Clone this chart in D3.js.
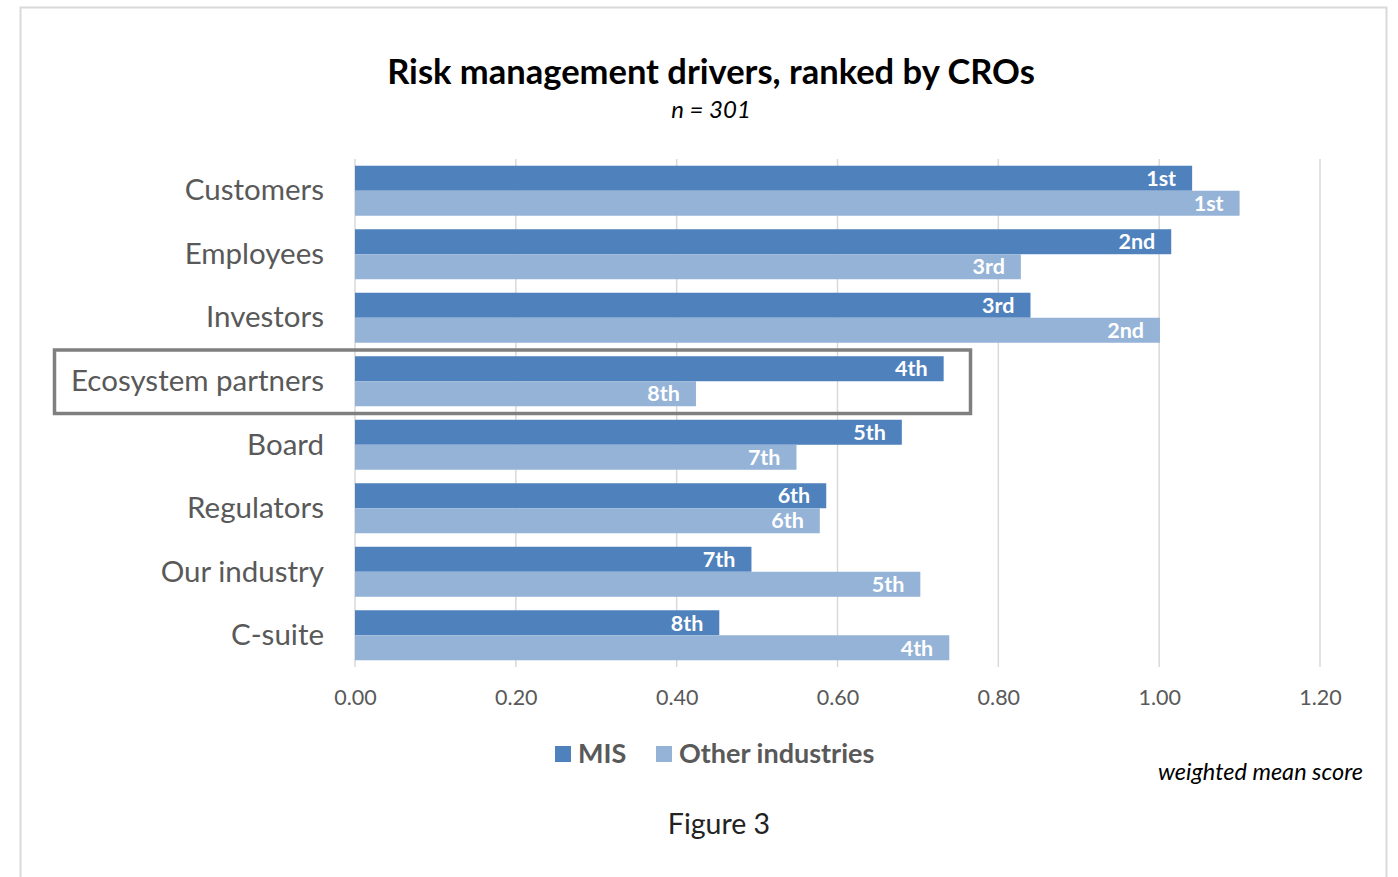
<!DOCTYPE html>
<html><head><meta charset="utf-8">
<script src="https://cdn.jsdelivr.net/npm/d3@7"></script>
<style>body{margin:0;background:#fff;font-family:Lato,"Open Sans",sans-serif;}</style>
</head><body><svg id="c" width="1398" height="877"></svg>
<script>
const categories = ["Customers","Employees","Investors","Ecosystem partners","Board","Regulators","Our industry","C-suite"];
const misValues = [1.041, 1.015, 0.84, 0.732, 0.68, 0.586, 0.493, 0.453];
const otherValues = [1.100, 0.828, 1.001, 0.424, 0.549, 0.578, 0.703, 0.739];
const misRanks = ["1st","2nd","3rd","4th","5th","6th","7th","8th"];
const otherRanks = ["1st","3rd","2nd","8th","7th","6th","5th","4th"];
const seriesNames = ["MIS","Other industries"];
const tickValues = [0,0.2,0.4,0.6,0.8,1.0,1.2];
const colors = ["#4F81BD","#95B3D7"];

const svg = d3.select("#c");
const font = "Lato, 'Open Sans', sans-serif";

// outer frame
svg.append("rect").attr("x",20.5).attr("y",7.5).attr("width",1366).attr("height",880)
  .attr("fill","none").attr("stroke","#d9d9d9").attr("stroke-width",2);

const x = d3.scaleLinear().domain([0,1.2]).range([355,1320]);
const y = d3.scaleBand().domain(categories).range([159,667]).paddingInner(0.2125).paddingOuter(0.106);
const ys = d3.scaleBand().domain([0,1]).range([0,y.bandwidth()]);

// gridlines
svg.append("g").selectAll("line").data(tickValues).join("line")
  .attr("x1",d=>x(d)).attr("x2",d=>x(d)).attr("y1",159).attr("y2",667)
  .attr("stroke","#d9d9d9").attr("stroke-width",1.5);

// x axis labels
const xAxis = d3.axisBottom(x).tickValues(tickValues).tickFormat(d3.format(".2f")).tickSize(0).tickPadding(0);
const gx = svg.append("g").attr("transform","translate(0,697)").call(xAxis);
gx.select(".domain").remove();
gx.selectAll("text").attr("font-family",font).attr("font-size",21.5).attr("fill","#595959").attr("dy","0.35em");

// category labels
const yAxis = d3.axisLeft(y).tickSize(0).tickPadding(0);
const gy = svg.append("g").attr("transform","translate(324,0)").call(yAxis);
gy.select(".domain").remove();
gy.selectAll("text").attr("font-family",font).attr("font-size",29.5).attr("fill","#595959").attr("dy","0.33em");

const series = [misValues, otherValues];
const ranks = [misRanks, otherRanks];
series.forEach((vals,si)=>{
  const g = svg.append("g");
  g.selectAll("rect").data(vals).join("rect")
    .attr("x",x(0)).attr("y",(d,i)=>y(categories[i])+ys(si))
    .attr("width",d=>x(d)-x(0)).attr("height",ys.bandwidth())
    .attr("fill",colors[si]);
  g.selectAll("text").data(vals).join("text")
    .attr("x",d=>x(d)-16).attr("y",(d,i)=>y(categories[i])+ys(si)+ys.bandwidth()/2)
    .attr("dy","0.36em").attr("text-anchor","end")
    .attr("font-family",font).attr("font-weight","bold").attr("font-size",21.5).attr("fill","#fff")
    .text((d,i)=>ranks[si][i]);
});

// highlight box
svg.append("rect").attr("x",54.5).attr("y",350).attr("width",916).attr("height",63.5)
  .attr("fill","none").attr("stroke","#7f7f7f").attr("stroke-width",3.5);

// title
svg.append("text").attr("x",711).attr("y",84).attr("text-anchor","middle")
  .attr("font-family",font).attr("font-weight","bold").attr("font-size",34.5).attr("fill","#000")
  .text("Risk management drivers, ranked by CROs");
svg.append("text").attr("x",711).attr("y",118).attr("text-anchor","middle")
  .attr("font-family",font).attr("font-style","italic").attr("font-size",24).attr("fill","#000")
  .text("n = 301");

// legend
const legend = [{x:555,name:seriesNames[0],c:colors[0]},{x:656,name:seriesNames[1],c:colors[1]}];
const lg = svg.append("g");
lg.selectAll("rect").data(legend).join("rect").attr("x",d=>d.x).attr("y",746).attr("width",16).attr("height",16).attr("fill",d=>d.c);
lg.selectAll("text").data(legend).join("text").attr("x",d=>d.x+23).attr("y",754).attr("dy","0.35em")
  .attr("font-family",font).attr("font-weight","bold").attr("font-size",27).attr("fill","#595959").text(d=>d.name);

svg.append("text").attr("x",1363).attr("y",780).attr("text-anchor","end")
  .attr("font-family",font).attr("font-style","italic").attr("font-size",23.5).attr("fill","#000")
  .text("weighted mean score");
svg.append("text").attr("x",719).attr("y",834).attr("text-anchor","middle")
  .attr("font-family",font).attr("font-size",28.5).attr("fill","#222")
  .text("Figure 3");
</script></body></html>
